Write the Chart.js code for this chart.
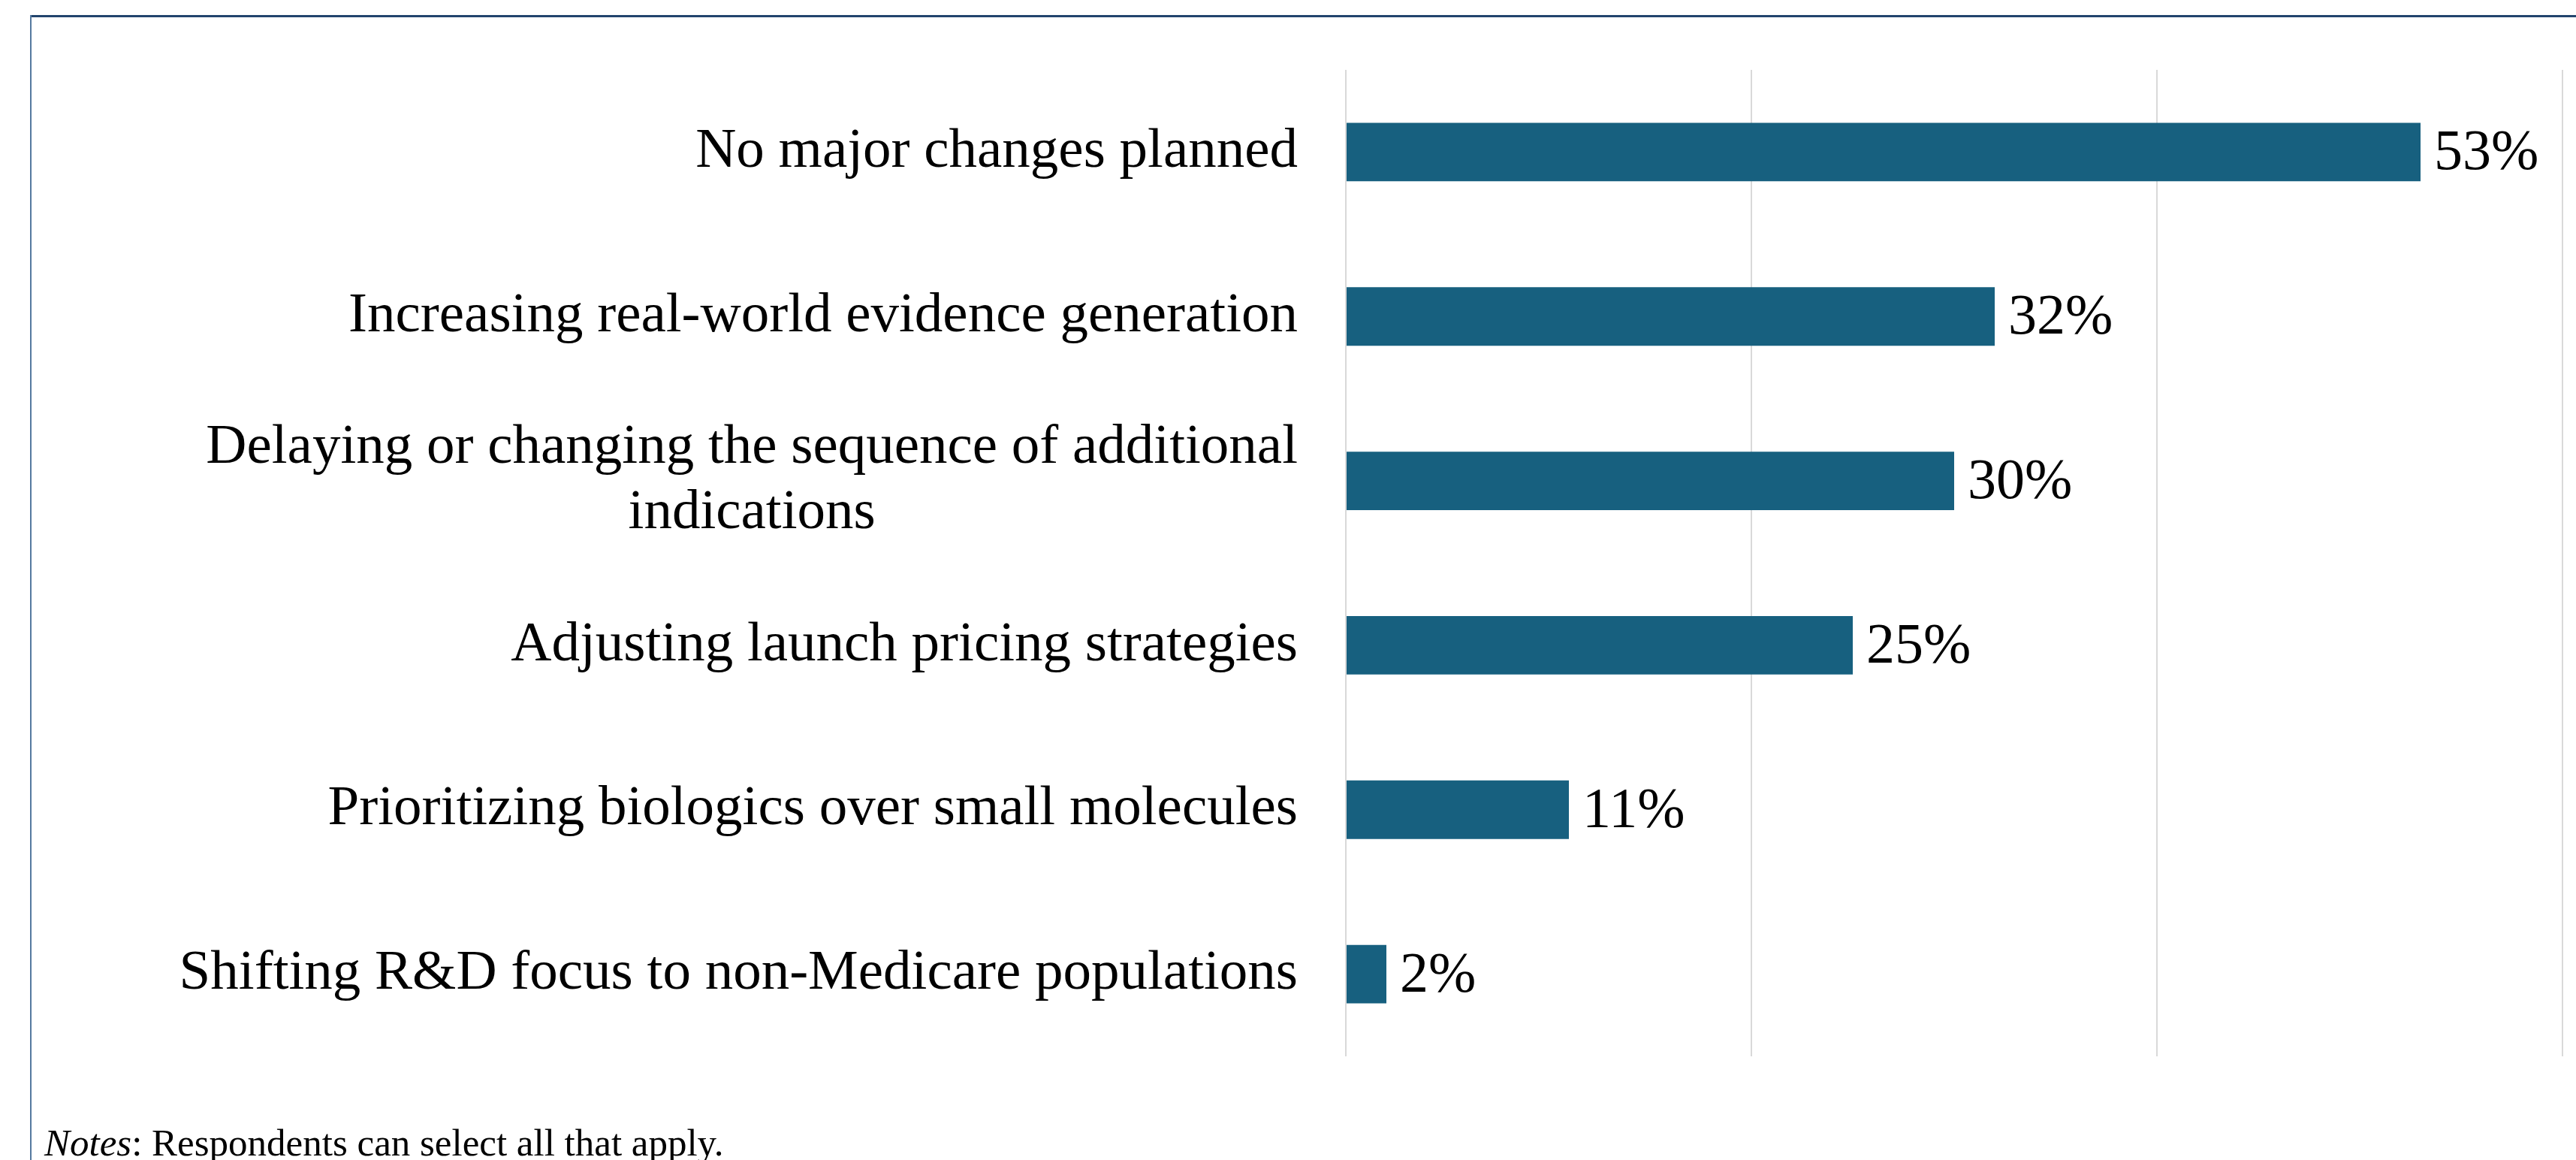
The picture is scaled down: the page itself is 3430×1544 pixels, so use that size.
<!DOCTYPE html>
<html>
<head>
<meta charset="utf-8">
<script src="https://cdn.jsdelivr.net/npm/chart.js@4/dist/chart.umd.min.js"></script>
<style>
  html, body { margin: 0; padding: 0; background: #ffffff; }
  body { width: 3430px; height: 1544px; position: relative; overflow: hidden; }
  #box-top { position: absolute; left: 40px; right: 0; top: 20px; height: 3px; background: #22446d; }
  #box-left { position: absolute; left: 40px; top: 20px; bottom: 0; width: 2px; background: #55799f; }
  #chart { position: absolute; left: 0; top: 0; }
  #notes {
    position: absolute; left: 59px; top: 1492px;
    font-family: "Liberation Serif", "Times New Roman", serif;
    font-size: 51px; color: #000; white-space: nowrap;
  }
</style>
</head>
<body>
<div id="box-top"></div>
<div id="box-left"></div>
<canvas id="chart" width="3430" height="1544"></canvas>
<div id="notes"><i>Notes</i>: Respondents can select all that apply.</div>
<script>
// share of respondents per planned change (percent)
const categories = [
    ['No major changes planned'],
    ['Increasing real-world evidence generation'],
    ['Delaying or changing the sequence of additional', 'indications'],
    ['Adjusting launch pricing strategies'],
    ['Prioritizing biologics over small molecules'],
    ['Shifting R&D focus to non-Medicare populations']
];
const shares = [53, 32, 30, 25, 11, 2];
const axisTicks = [0, 20, 40, 60];

const labelFont = '75px "Liberation Serif", "Times New Roman", serif';
const valueFont = '76px "Liberation Serif", "Times New Roman", serif';

// category names to the left of the plot, multi-line ones centred on each other
const categoryLabels = {
    id: 'categoryLabels',
    afterDraw(chart) {
        const ctx = chart.ctx;
        const yScale = chart.scales.y;
        const right = chart.chartArea.left - 64;
        const lineHeight = 87;
        ctx.save();
        ctx.font = labelFont;
        ctx.fillStyle = '#000000';
        ctx.textAlign = 'center';
        ctx.textBaseline = 'middle';
        categories.forEach(function (lines, i) {
            const mid = yScale.getPixelForValue(i);
            const blockWidth = Math.max.apply(null, lines.map(l => ctx.measureText(l).width));
            const cx = right - blockWidth / 2;
            lines.forEach(function (line, j) {
                const y = mid + (j - (lines.length - 1) / 2) * lineHeight;
                ctx.fillText(line, cx, y);
            });
        });
        ctx.restore();
    }
};

// percentage printed just past the end of each bar
const valueLabels = {
    id: 'valueLabels',
    afterDatasetsDraw(chart) {
        const ctx = chart.ctx;
        const meta = chart.getDatasetMeta(0);
        ctx.save();
        ctx.font = valueFont;
        ctx.fillStyle = '#000000';
        ctx.textAlign = 'left';
        ctx.textBaseline = 'middle';
        meta.data.forEach(function (bar, i) {
            ctx.fillText(shares[i] + '%', bar.x + 18, bar.y + 3);
        });
        ctx.restore();
    }
};

const ctx = document.getElementById('chart').getContext('2d');
new Chart(ctx, {
    type: 'bar',
    data: {
        labels: categories.map(c => c.join(' ')),
        datasets: [{
            data: shares,
            backgroundColor: '#17607f',
            borderWidth: 0,
            categoryPercentage: 1,
            barPercentage: 0.356
        }]
    },
    options: {
        indexAxis: 'y',
        responsive: false,
        animation: false,
        layout: {
            padding: { left: 1792, right: 18, top: 93, bottom: 138 }
        },
        plugins: {
            legend: { display: false },
            tooltip: { enabled: false }
        },
        scales: {
            x: {
                min: axisTicks[0],
                max: axisTicks[axisTicks.length - 1],
                afterBuildTicks: function (scale) {
                    scale.ticks = axisTicks.map(v => ({ value: v }));
                },
                afterFit: function (scale) { scale.height = 0; },
                ticks: { display: false },
                border: { display: false },
                grid: { color: '#d9d9d9', lineWidth: 2, drawTicks: false }
            },
            y: {
                display: false
            }
        }
    },
    plugins: [categoryLabels, valueLabels]
});
</script>
</body>
</html>
